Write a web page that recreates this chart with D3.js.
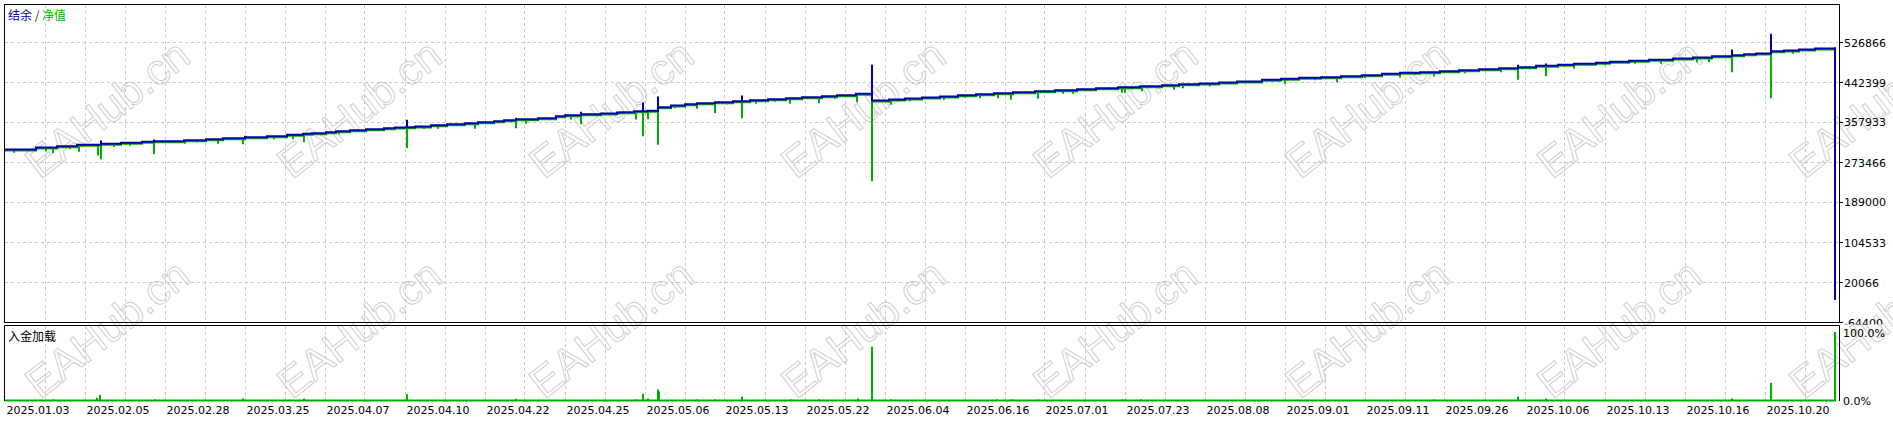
<!DOCTYPE html>
<html><head><meta charset="utf-8">
<script src="https://cdn.jsdelivr.net/npm/d3@7"></script>
<style>body{margin:0;background:#fff;overflow:hidden} svg{display:block}</style>
</head><body><svg id="c" width="1893" height="421"></svg>
<script>
// ---- data ----
const yTicks = [-64400, 20066, 104533, 189000, 273466, 357933, 442399, 526866];
const loadTicks = [0, 100];
const loadTickLabels = ["0.0%", "100.0%"];
const dateLabels = ["2025.01.03","2025.02.05","2025.02.28","2025.03.25","2025.04.07","2025.04.10",
  "2025.04.22","2025.04.25","2025.05.06","2025.05.13","2025.05.22","2025.06.04","2025.06.16",
  "2025.07.01","2025.07.23","2025.08.08","2025.09.01","2025.09.11","2025.09.26","2025.10.06",
  "2025.10.13","2025.10.16","2025.10.20"];
const dateTrades = [0,80,160,240,320,400,480,560,640,720,800,880,960,1040,1120,1200,1280,1360,1440,1520,1600,1680,1760];
const lastTrade = 1830;

// balance: [trade, value] step levels
const balance = [[0,300900],[31,305100],[52,307900],[72,310800],[96,313000],[116,315100],[137,317200],
 [149,318400],[179,320600],[201,322700],[218,324800],[240,326900],[262,329000],[282,332000],[298,334100],
 [307,335300],[321,337500],[331,339600],[345,341700],[361,343800],[379,345900],[390,347400],[402,348000],
 [410,349500],[426,352200],[442,354300],[460,356500],[473,358600],[489,360700],[499,362800],[511,364900],
 [533,367000],[551,371200],[560,373300],[576,375500],[596,376900],[612,379100],[615,379700],[629,381800],
 [643,382600],[653,390200],[666,393800],[680,396600],[692,398700],[710,400800],[728,402900],[745,405000],
 [763,407100],[781,409200],[797,411400],[817,413500],[832,415600],[851,418500],[867,404400],[884,406500],
 [900,408600],[917,410700],[935,412800],[953,415600],[971,417700],[989,419800],[1008,421900],[1030,424000],
 [1050,426100],[1072,428300],[1091,430400],[1113,432500],[1135,434600],[1157,436700],[1174,438800],
 [1194,440300],[1214,442400],[1232,444500],[1257,448100],[1276,450200],[1294,452300],[1316,453600],
 [1336,455700],[1357,457800],[1377,460800],[1395,462900],[1415,464200],[1435,466300],[1454,468400],
 [1474,470500],[1494,472600],[1513,474700],[1531,477700],[1553,479800],[1569,481900],[1591,484000],
 [1605,486100],[1624,488200],[1644,490300],[1668,493100],[1688,495200],[1707,497900],[1727,500100],
 [1739,502200],[1751,503600],[1766,508500],[1779,510000],[1794,512100],[1810,514200],[1830,516900],[1830,-16500]];
// balance upward spikes: [trade, peak]
const balanceSpikes = [[96,319900],[149,322000],[240,329900],[298,336200],[402,363600],[511,367900],
 [576,380500],[638,400200],[653,412800],[737,415000],[867,479800],[1513,479800],[1541,482500],
 [1727,512100],[1766,545200]];

// equity: [trade, value] step levels
const equity = [[0,298800],[31,303000],[52,305800],[72,308700],[96,310900],[116,313000],[137,315100],
 [149,316300],[179,318500],[201,320600],[218,322700],[240,324800],[262,326900],[282,329900],[298,332000],
 [307,333200],[321,335400],[331,337500],[345,339600],[361,341700],[379,343800],[390,345300],[402,345900],
 [410,347400],[426,350100],[442,352200],[460,354400],[473,356500],[489,358600],[499,360700],[511,362800],
 [533,364900],[551,369100],[560,371200],[576,373400],[596,374800],[612,377000],[615,377600],[629,379700],
 [643,380500],[653,388100],[666,391700],[680,394500],[692,396600],[710,398700],[728,400800],[745,402900],
 [763,405000],[781,407100],[797,409300],[817,411400],[832,413500],[851,416400],[867,402300],[884,404400],
 [900,406500],[917,408600],[935,410700],[953,413500],[971,415600],[989,417700],[1008,419800],[1030,421900],
 [1050,424000],[1072,426200],[1091,428300],[1113,430400],[1135,432500],[1157,434600],[1174,436700],
 [1194,438200],[1214,440300],[1232,442400],[1257,446000],[1276,448100],[1294,450200],[1316,451500],
 [1336,453600],[1357,455700],[1377,458700],[1395,460800],[1415,462100],[1435,464200],[1454,466300],
 [1474,468400],[1494,470500],[1513,472600],[1531,475600],[1553,477700],[1569,479800],[1591,481900],
 [1605,484000],[1624,486100],[1644,488200],[1668,491000],[1688,493100],[1707,495800],[1727,498000],
 [1739,500100],[1751,501500],[1766,506400],[1779,507900],[1794,510000],[1810,512100],[1830,514800],[1830,-16500]];
// equity downward spikes: [trade, low]
const equityDips = [[9,294000],[41,297400],[48,293100],[65,302000],[74,296100],[93,288300],[96,280400],
 [109,306000],[125,309000],[149,291000],[180,313000],[192,315500],[213,313000],[238,312100],[269,322500],
 [288,322700],[299,316300],[334,333000],[402,303700],[419,344000],[433,344600],[459,351000],[470,344600],
 [511,345900],[521,355200],[532,360500],[560,367000],[566,364300],[576,354300],[631,364300],[638,329000],
 [643,364900],[653,310800],[670,388000],[692,386900],[710,377600],[722,396000],[737,367000],[751,397400],
 [770,402000],[785,397400],[814,398700],[830,408000],[852,400800],[867,234000],[886,395900],[905,403000],
 [939,405900],[960,410000],[975,409200],[993,409200],[1006,405900],[1033,408000],[1058,418500],
 [1068,418500],[1085,424000],[1117,420700],[1120,420700],[1137,424000],[1169,427000],[1178,430400],
 [1205,434000],[1227,438200],[1250,442000],[1280,439700],[1310,447000],[1332,443000],[1360,452000],
 [1395,452300],[1410,458000],[1429,455100],[1460,462000],[1496,464200],[1513,448100],[1541,455700],
 [1569,471300],[1600,479000],[1630,482000],[1656,481900],[1692,485300],[1704,485300],[1727,464200],
 [1766,409200],[1788,503000],[1806,507900]];

// deposit load %: [trade, percent]
const loadSpikes = [[48,2],[92,4],[95,8],[150,2],[214,1.5],[238,3],[299,3],[402,9],[470,1.5],[511,2.5],
 [522,1],[575,1],[631,2],[638,10],[643,3],[653,16],[654,13],[692,2],[710,2],[724,1.5],[737,6],[786,2],
 [814,2],[853,3],[867,79],[886,2],[992,2],[1007,2],[1033,2],[1117,2],[1120,2],[1136,2],[1331,1],
 [1429,2],[1513,6],[1541,3],[1727,3],[1766,26],[1830,100]];

// ---- chart ----
const svg = d3.select("#c");
const FONT = "'DejaVu Sans', Verdana, sans-serif";
const CJK = "'Noto Sans CJK SC', sans-serif";
const BLUE = "#0000b0", GREEN = "#00b000", GRID = "#c8c8c8";

const x = d3.scaleLinear().domain([0, lastTrade]).range([5, 1835]);
const y = d3.scaleLinear().domain([yTicks[0], yTicks[yTicks.length-1]]).range([322.5, 42.5]);
const yl = d3.scaleLinear().domain([0, 100]).range([400.5, 332]);

svg.append("rect").attr("width",1893).attr("height",421).attr("fill","#fff");

const defs = svg.append("defs");
defs.append("clipPath").attr("id","cu").append("rect").attr("x",5).attr("y",5).attr("width",1834).attr("height",317);
defs.append("clipPath").attr("id","cl").append("rect").attr("x",5).attr("y",326).attr("width",1834).attr("height",80);
defs.append("clipPath").attr("id","ca").append("rect").attr("x",1840).attr("y",0).attr("width",60).attr("height",324.5);

// grid
const gridTrades = d3.range(40, lastTrade, 40);
const g = svg.append("g").attr("stroke", GRID).attr("stroke-width",1).attr("stroke-dasharray","3,3").attr("fill","none");
g.selectAll("line.v1").data(gridTrades).join("line")
 .attr("x1", d => Math.floor(x(d))+0.5).attr("x2", d => Math.floor(x(d))+0.5).attr("y1",5).attr("y2",322);
g.selectAll("line.v2").data(gridTrades).join("line").attr("class","v2")
 .attr("x1", d => Math.floor(x(d))+0.5).attr("x2", d => Math.floor(x(d))+0.5).attr("y1",326).attr("y2",400);
g.selectAll("line.h").data(yTicks.slice(1)).join("line").attr("class","h")
 .attr("x1",5).attr("x2",1839).attr("y1", d => Math.floor(y(d))+0.5).attr("y2", d => Math.floor(y(d))+0.5);

// watermark (under the data)
const wmCols = d3.range(0, 8);
const wmRows = [180, 400];
const wm = svg.append("g").attr("fill","none").attr("stroke","#d0d0d0").attr("stroke-width",1)
  .attr("font-family","'Liberation Sans', Arial, sans-serif").attr("font-size",43);
wmRows.forEach(ry => {
  wm.selectAll(null).data(wmCols).join("text")
    .attr("transform", c => `translate(${40 + 252*c},${ry}) rotate(-38)`).text("EAHub.cn");
});

// series builders
function withSpikes(steps, spikes) {
  const pts = [];
  let si = 0;
  const sp = spikes.slice().sort((a,b)=>a[0]-b[0]);
  let level = steps[0][1];
  for (let i=0;i<steps.length;i++){
    const [t,v] = steps[i];
    while (si < sp.length && sp[si][0] <= t) {
      const [st, sv] = sp[si];
      pts.push([st, level],[st, sv],[st, level]);
      si++;
    }
    pts.push([t,v]);
    level = v;
  }
  return pts;
}
const line = d3.line().x(d => x(d[0])).y(d => y(d[1])).curve(d3.curveStepAfter);

const up = svg.append("g").attr("clip-path","url(#cu)");
up.append("path").datum(withSpikes(equity, equityDips)).attr("d", line)
  .attr("fill","none").attr("stroke",GREEN).attr("stroke-width",2);
up.append("path").datum(withSpikes(balance, balanceSpikes)).attr("d", line)
  .attr("fill","none").attr("stroke",BLUE).attr("stroke-width",2);

// load panel
const loadPts = withSpikes([[0,0],[lastTrade,0]], loadSpikes);
const lline = d3.line().x(d => x(d[0])).y(d => yl(d[1])).curve(d3.curveStepAfter);
svg.append("g").attr("clip-path","url(#cl)").append("path").datum(loadPts).attr("d", lline)
  .attr("fill","none").attr("stroke",GREEN).attr("stroke-width",2);

// frames
const fr = svg.append("g").attr("stroke","#000").attr("stroke-width",1).attr("fill","none");
fr.append("rect").attr("x",4.5).attr("y",4.5).attr("width",1835).attr("height",318);
fr.append("line").attr("x1",4.5).attr("x2",1839.5).attr("y1",325.5).attr("y2",325.5);
fr.append("line").attr("x1",4.5).attr("x2",4.5).attr("y1",325.5).attr("y2",401);
fr.append("line").attr("x1",1839.5).attr("x2",1839.5).attr("y1",325.5).attr("y2",401);

// right axis ticks and labels
const ax = svg.append("g").attr("clip-path","url(#ca)");
ax.selectAll("line").data(yTicks).join("line")
  .attr("x1",1840).attr("x2",1843).attr("y1", d => Math.floor(y(d))+0.5).attr("y2", d => Math.floor(y(d))+0.5)
  .attr("stroke","#000");
ax.selectAll("text").data(yTicks).join("text")
  .attr("x",1844).attr("y", d => y(d)+4).text(d => d)
  .attr("font-family",FONT).attr("font-size",11).attr("fill","#000");
svg.selectAll("text.pl").data(loadTicks).join("text").attr("class","pl")
  .attr("x",1843).attr("y", d => yl(d)+4.5).text((d,i) => loadTickLabels[i])
  .attr("font-family",FONT).attr("font-size",11).attr("fill","#000");

// date labels
svg.selectAll("text.dl").data(dateTrades).join("text").attr("class","dl")
  .attr("x", d => Math.floor(x(d))+1.5).attr("y",414).text((d,i) => dateLabels[i])
  .attr("font-family",FONT).attr("font-size",11).attr("fill","#000");

// legend
const lg = svg.append("text").attr("x",8).attr("y",19.5).attr("font-family",CJK).attr("font-size",12);
lg.append("tspan").text("结余").attr("fill",BLUE);
lg.append("tspan").text(" / ").attr("fill","#333");
lg.append("tspan").text("净值").attr("fill",GREEN);
svg.append("text").attr("x",8).attr("y",341).attr("font-family",CJK).attr("font-size",12).attr("fill","#000").text("入金加载");
</script></body></html>
